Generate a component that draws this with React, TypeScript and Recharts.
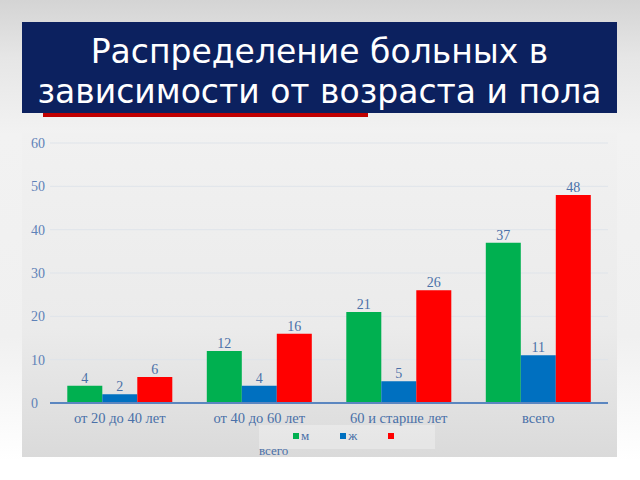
import { BarChart, Bar, XAxis, YAxis, CartesianGrid, LabelList } from "recharts";

const categories = ["от 20 до 40 лет", "от 40 до 60 лет", "60 и старше лет", "всего"];
const men = [4, 12, 21, 37];
const women = [2, 4, 5, 11];
const total = [6, 16, 26, 48];
const yTicks = [0, 10, 20, 30, 40, 50, 60];

const series = [
  { key: "m", name: "м", color: "#00b050", values: men },
  { key: "w", name: "ж", color: "#0070c0", values: women },
  { key: "t", name: "всего", color: "#ff0000", values: total },
];

const data = categories.map((name, i) => ({
  name,
  m: men[i],
  w: women[i],
  t: total[i],
}));

const textBlue = "#4a70a8";
const serif = "'Liberation Serif', 'Times New Roman', serif";

const YTick = (props: any) => (
  <text
    x={props.x - 19}
    y={props.y}
    dy={5}
    textAnchor="start"
    fill="#5f82b8"
    fontSize={14}
    fontFamily={serif}
  >
    {props.payload.value}
  </text>
);

export default function App() {
  return (
    <div
      style={{
        position: "absolute",
        left: 0,
        top: 0,
        width: 640,
        height: 480,
        overflow: "hidden",
        background:
          "linear-gradient(180deg, #d4d4d4 0%, #e6e6e6 12%, #f2f2f2 28%, #f0f0f0 70%, #ffffff 96%)",
      }}
    >
      <div
        style={{
          position: "absolute",
          left: 22,
          top: 22,
          width: 595,
          height: 91,
          background: "#0c215f",
          color: "#ffffff",
          fontFamily: "'DejaVu Sans', Verdana, sans-serif",
          fontSize: 33,
          lineHeight: "40px",
          textAlign: "center",
          paddingTop: 10,
          boxSizing: "border-box",
          whiteSpace: "nowrap",
        }}
      >
        Распределение больных в
        <br />
        зависимости от возраста и пола
      </div>
      <div
        style={{
          position: "absolute",
          left: 43,
          top: 113,
          width: 325,
          height: 4,
          background: "#c00000",
        }}
      />
      <div
        style={{
          position: "absolute",
          left: 22,
          top: 133,
          width: 595,
          height: 324,
          background: "linear-gradient(180deg, #f1f1f1 0%, #ebebeb 60%, #dadada 100%)",
        }}
      />
      <div style={{ position: "absolute", left: 0, top: 0 }}>
        <BarChart
          width={640}
          height={480}
          data={data}
          margin={{ top: 143, right: 32, bottom: 47, left: 20 }}
          barGap={0}
          barCategoryGap="12.4%"
        >
          <CartesianGrid vertical={false} stroke="#dfe4ea" />
          <XAxis
            dataKey="name"
            axisLine={{ stroke: "#5b86c0", strokeWidth: 2 }}
            tickLine={false}
            tick={{ fill: textBlue, fontSize: 14.5, fontFamily: serif }}
            tickMargin={4}
            height={30}
          />
          <YAxis
            width={30}
            domain={[0, 60]}
            ticks={yTicks}
            axisLine={false}
            tickLine={false}
            tickSize={0}
            tickMargin={0}
            tick={<YTick />}
          />
          {series.map((s) => (
            <Bar key={s.key} dataKey={s.key} name={s.name} fill={s.color} isAnimationActive={false}>
              <LabelList
                dataKey={s.key}
                position="top"
                offset={3}
                fill={textBlue}
                fontSize={14}
                fontFamily={serif}
              />
            </Bar>
          ))}
        </BarChart>
      </div>
      <div
        style={{
          position: "absolute",
          left: 259,
          top: 425,
          width: 176,
          height: 24,
          background: "rgba(255,255,255,0.3)",
          fontFamily: serif,
          fontSize: 13,
          color: textBlue,
        }}
      >
        <div style={{ display: "flex", paddingLeft: 34, paddingTop: 3 }}>
          {series.map((s, i) => (
            <div key={s.key} style={{ width: 52, display: "flex", alignItems: "center" }}>
              <span
                style={{
                  width: 6,
                  height: 6,
                  background: s.color,
                  display: "inline-block",
                  marginRight: 2,
                }}
              />
              <span>{i < series.length - 1 ? s.name : ""}</span>
            </div>
          ))}
        </div>
        <div style={{ position: "absolute", left: 0, top: 18 }}>
          {series[series.length - 1].name}
        </div>
      </div>
    </div>
  );
}
